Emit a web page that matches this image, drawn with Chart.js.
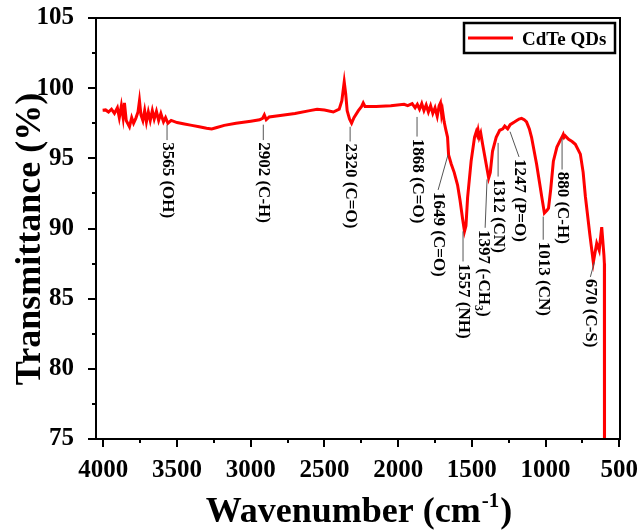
<!DOCTYPE html>
<html>
<head>
<meta charset="utf-8">
<script src="https://cdn.jsdelivr.net/npm/chart.js@4.4.1/dist/chart.umd.min.js"></script>
<style>
  html, body { margin: 0; padding: 0; background: #fff; }
  #ftir { display: block; }
</style>
</head>
<body>
<canvas id="ftir" width="638" height="531"></canvas>
<script>
// FTIR spectrum of CdTe QDs
const wavenumber = [
  4005, 3985, 3965, 3945, 3925, 3905, 3892, 3878, 3866, 3857, 3845, 3823, 3808, 3795, 3780,
  3765, 3755, 3745, 3732, 3720, 3708, 3695, 3682, 3668, 3655, 3640, 3625, 3610, 3592, 3578,
  3562, 3540, 3500, 3450, 3400, 3350, 3300, 3265, 3230, 3180, 3100, 3000, 2940, 2920, 2908,
  2895, 2875, 2800, 2700, 2600, 2550, 2500, 2440, 2400, 2382, 2366, 2356, 2346, 2330, 2316,
  2300, 2270, 2248, 2237, 2225, 2150, 2050, 1960, 1935, 1905, 1885, 1870, 1855, 1840, 1825,
  1810, 1795, 1780, 1765, 1750, 1735, 1722, 1713, 1705, 1699, 1688, 1678, 1665, 1658, 1640,
  1620, 1597, 1580, 1563, 1550, 1540, 1529, 1505, 1482, 1470, 1464, 1458, 1450, 1440, 1427,
  1403, 1386, 1375, 1360, 1335, 1311, 1290, 1277, 1257, 1240, 1209, 1180, 1163, 1145, 1129,
  1110, 1095, 1061, 1040, 1025, 1008, 990, 980, 965, 947, 923, 900, 889, 880, 874,
  867, 844, 820, 798, 764, 745, 730, 700, 676, 653, 636, 619, 604, 601, 600
];
const transmittance = [
  98.43, 98.45, 98.3, 98.5, 98.2, 98.6, 97.9, 98.75, 97.9, 98.95, 97.7, 97.25, 97.9, 97.5, 97.85,
  98.3, 99.1, 98.1, 97.7, 98.4, 97.6, 98.3, 97.7, 98.4, 97.8, 98.35, 97.7, 98.2, 97.6, 97.9,
  97.5, 97.7, 97.55, 97.45, 97.35, 97.25, 97.15, 97.1, 97.2, 97.35, 97.5, 97.65, 97.75, 97.85, 98.1,
  97.75, 97.95, 98.05, 98.2, 98.4, 98.5, 98.45, 98.3, 98.5, 99.1, 100.45, 99.6, 98.4, 97.8, 97.5,
  97.9, 98.4, 98.7, 98.95, 98.7, 98.7, 98.75, 98.85, 98.75, 98.9, 98.6, 98.85, 98.5, 98.9, 98.4,
  98.8, 98.3, 98.75, 98.2, 98.6, 98.0, 98.75, 98.95, 98.1, 98.4, 97.6, 97.1, 96.5, 95.25, 94.6,
  94.0, 93.1, 92.0, 90.7, 89.8, 90.2, 92.2, 94.8, 96.5, 96.9, 96.7, 97.0, 96.5, 96.8, 96.0,
  94.6, 93.6, 94.0, 95.5, 96.5, 97.0, 97.1, 97.3, 97.1, 97.4, 97.6, 97.8, 97.85, 97.75, 97.6,
  97.1, 96.5, 94.6, 93.2, 92.2, 91.1, 91.3, 91.45, 92.8, 94.8, 95.8, 96.3, 96.5, 96.7, 96.5,
  96.6, 96.35, 96.2, 96.0, 95.3, 94.0, 92.3, 89.6, 87.6, 88.95, 88.45, 90.1, 88.1, 87.5, 60
];
const xTicks = [4000, 3750, 3500, 3250, 3000, 2750, 2500, 2250, 2000, 1750, 1500, 1250, 1000, 750, 500];
const yTicks = [75, 77.5, 80, 82.5, 85, 87.5, 90, 92.5, 95, 97.5, 100, 102.5, 105];
const seriesName = 'CdTe QDs';

// peak assignments: text, leader start [wn, T], leader end [wn, T], text top (T)
const peaks = [
  { text: '3565 (OH)',  from: [3568, 97.4],  to: [3568, 96.3],  at: 96.15 },
  { text: '2902 (C-H)', from: [2915, 97.4],  to: [2915, 96.3],  at: 96.15 },
  { text: '2320 (C=O)', from: [2326, 97.25], to: [2326, 96.2],  at: 96.05 },
  { text: '1868 (C=O)', from: [1872, 97.95], to: [1872, 96.55], at: 96.4 },
  { text: '1649 (C=O)', from: [1662, 95.25], to: [1729, 92.75], at: 92.6 },
  { text: '1557 (NH)',  from: [1560, 89.8],  to: [1560, 87.65], at: 87.5 },
  { text: '1397 (-CH', sub: '3', tail: ')', from: [1397, 93.5], to: [1410, 90.05], at: 89.9, shift: -2 },
  { text: '1312 (CN)',  from: [1322, 96.1],  to: [1322, 93.7],  at: 93.55 },
  { text: '1247 (P=O)', from: [1241, 96.9],  to: [1180, 95.1],  at: 94.95 },
  { text: '1013 (CN)',  from: [1016, 90.85], to: [1016, 89.2],  at: 89.05 },
  { text: '880 (C-H)',  from: [888, 96.45],  to: [888, 94.2],   at: 94.05 },
  { text: '670 (C-S)',  from: [669, 87.6],   to: [696, 86.55],  at: 86.4 }
];

const SERIF = "'Liberation Serif', 'Times New Roman', serif";

const frame = {
  id: 'frame',
  afterDraw(chart) {
    const { ctx, chartArea: a, scales: { x, y } } = chart;
    ctx.save();
    ctx.strokeStyle = '#000';
    ctx.lineWidth = 2;
    ctx.strokeRect(a.left, a.top, a.right - a.left, a.bottom - a.top);
    ctx.beginPath();
    xTicks.forEach(v => {
      const px = Math.round(x.getPixelForValue(v));
      const len = v % 500 === 0 ? 8 : 4;
      ctx.moveTo(px, a.bottom);
      ctx.lineTo(px, a.bottom + len);
    });
    yTicks.forEach(v => {
      const py = Math.round(y.getPixelForValue(v));
      const len = v % 5 === 0 ? 8 : 4;
      ctx.moveTo(a.left, py);
      ctx.lineTo(a.left - len, py);
    });
    ctx.stroke();

    // peak labels
    ctx.strokeStyle = '#555';
    ctx.lineWidth = 1;
    ctx.fillStyle = '#000';
    peaks.forEach(p => {
      const x1 = x.getPixelForValue(p.from[0]), y1 = y.getPixelForValue(p.from[1]);
      const x2 = x.getPixelForValue(p.to[0]), y2 = y.getPixelForValue(p.to[1]);
      ctx.beginPath();
      ctx.moveTo(x1, y1);
      ctx.lineTo(x2, y2);
      ctx.stroke();
      ctx.save();
      ctx.translate(x2 + (p.shift || 0), y.getPixelForValue(p.at));
      ctx.rotate(Math.PI / 2);
      ctx.textAlign = 'left';
      ctx.textBaseline = 'middle';
      ctx.font = 'bold 17px ' + SERIF;
      ctx.fillText(p.text, 0, 0);
      if (p.sub) {
        let w = ctx.measureText(p.text).width;
        ctx.font = 'bold 12px ' + SERIF;
        ctx.fillText(p.sub, w, 5);
        w += ctx.measureText(p.sub).width;
        ctx.font = 'bold 17px ' + SERIF;
        ctx.fillText(p.tail, w, 0);
      }
      ctx.restore();
    });

    // legend
    const ds = chart.data.datasets[0];
    ctx.strokeStyle = '#000';
    ctx.lineWidth = 2.5;
    ctx.strokeRect(a.right - 156, a.top + 5, 151, 30);
    ctx.strokeStyle = ds.borderColor;
    ctx.lineWidth = 3;
    ctx.beginPath();
    ctx.moveTo(a.right - 152, a.top + 20);
    ctx.lineTo(a.right - 107, a.top + 20);
    ctx.stroke();
    ctx.font = 'bold 19px ' + SERIF;
    ctx.textAlign = 'left';
    ctx.textBaseline = 'alphabetic';
    ctx.fillText(ds.label, a.right - 98, a.top + 27);

    // axis titles
    ctx.font = 'bold 36px ' + SERIF;
    ctx.textAlign = 'center';
    ctx.textBaseline = 'middle';
    ctx.save();
    ctx.translate(31, 239);
    ctx.rotate(-Math.PI / 2);
    ctx.fillText('Transmittance (%)', 0, 0);
    ctx.restore();

    const main = 'Wavenumber (cm', sup = '-1', end = ')';
    ctx.font = 'bold 36px ' + SERIF;
    const w1 = ctx.measureText(main).width, w3 = ctx.measureText(end).width;
    ctx.font = 'bold 21px ' + SERIF;
    const w2 = ctx.measureText(sup).width;
    let sx = (a.left + a.right) / 2 - (w1 + w2 + w3) / 2;
    ctx.textAlign = 'left';
    ctx.textBaseline = 'alphabetic';
    ctx.font = 'bold 36px ' + SERIF;
    ctx.fillText(main, sx, 522);
    ctx.font = 'bold 21px ' + SERIF;
    ctx.fillText(sup, sx + w1 + 1, 507);
    ctx.font = 'bold 36px ' + SERIF;
    ctx.fillText(end, sx + w1 + w2 + 2, 522);
    ctx.restore();
  }
};

new Chart(document.getElementById('ftir'), {
  type: 'line',
  data: {
    datasets: [{
      label: seriesName,
      data: wavenumber.map((w, i) => ({ x: w, y: transmittance[i] })),
      borderColor: '#ff0000',
      borderWidth: 3,
      pointRadius: 0,
      tension: 0,
      fill: false,
      clip: 0
    }]
  },
  options: {
    responsive: false,
    animation: false,
    devicePixelRatio: 1,
    layout: { padding: { left: 0, top: 18, right: 18, bottom: 0 } },
    plugins: { legend: { display: false }, tooltip: { enabled: false } },
    scales: {
      x: {
        type: 'linear',
        reverse: true,
        min: 495,
        max: 4050,
        afterBuildTicks: s => { s.ticks = xTicks.map(v => ({ value: v })); },
        afterFit: s => { s.height = 92; s.paddingLeft = 0; s.paddingRight = 0; },
        grid: { display: false },
        border: { display: false },
        ticks: {
          autoSkip: false,
          maxRotation: 0,
          padding: 9,
          color: '#000',
          font: { family: SERIF, size: 25, weight: 'bold' },
          callback: v => (v % 500 === 0 ? String(v) : '')
        }
      },
      y: {
        min: 75,
        max: 105,
        afterBuildTicks: s => { s.ticks = yTicks.map(v => ({ value: v })); },
        afterFit: s => { s.width = 96; s.paddingTop = 0; s.paddingBottom = 0; },
        grid: { display: false },
        border: { display: false },
        ticks: {
          autoSkip: false,
          padding: 14,
          color: '#000',
          font: { family: SERIF, size: 25, weight: 'bold' },
          callback: v => (v % 5 === 0 ? String(v) : '')
        }
      }
    }
  },
  plugins: [frame]
});
</script>
</body>
</html>
